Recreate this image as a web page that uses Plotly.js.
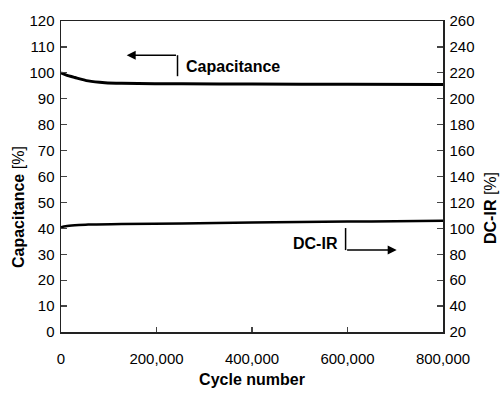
<!DOCTYPE html>
<html>
<head>
<meta charset="utf-8">
<script src="https://cdn.plot.ly/plotly-3.0.1.min.js"></script>
<style>html,body{margin:0;padding:0;background:#fff}#chart{width:501px;height:395px}</style>
</head>
<body>
<div id="chart"></div>
<script>
// Data
const capCycles = [0, 10000, 29000, 57000, 92000, 127000, 253000, 400000, 600000, 800000];
const capValues = [100, 99.2, 98.2, 96.9, 96.2, 95.95, 95.75, 95.65, 95.55, 95.5];
const dcirCycles = [0, 10000, 29000, 57000, 127000, 253000, 400000, 500000, 600000, 700000, 800000];
const dcirValues = [100.8, 101.6, 102.3, 103.0, 103.3, 103.8, 104.5, 104.9, 105.2, 105.5, 105.8];
const xTicks = [0, 200000, 400000, 600000, 800000];
const leftTicks = [0,10,20,30,40,50,60,70,80,90,100,110,120];
const rightTicks = [20,40,60,80,100,120,140,160,180,200,220,240,260];

const FONT = '"Liberation Sans", Arial, Helvetica, sans-serif';

const traces = [
  {x: capCycles, y: capValues, type: 'scatter', mode: 'lines', line: {color: '#000', width: 3, shape: 'spline', smoothing: 0.8}, yaxis: 'y', hoverinfo: 'skip'},
  {x: dcirCycles, y: dcirValues, type: 'scatter', mode: 'lines', line: {color: '#000', width: 2.5, shape: 'spline', smoothing: 0.8}, yaxis: 'y2', hoverinfo: 'skip'}
];

const axCommon = {showgrid: false, zeroline: false, showline: true, linecolor: '#222', linewidth: 1.5,
  ticks: 'inside', tickcolor: '#444', tickwidth: 1.2, tickfont: {family: FONT, size: 15, color: '#000'}};

const layout = {
  width: 501, height: 395,
  margin: {l: 61, r: 58, t: 21, b: 63},
  paper_bgcolor: '#fff', plot_bgcolor: '#fff',
  showlegend: false,
  font: {family: FONT, color: '#000'},
  xaxis: Object.assign({}, axCommon, {range: [0, 800000], tickvals: xTicks, ticktext: xTicks.map(v => v.toLocaleString('en-US')),
    ticklen: 5, ticklabelstandoff: 12, mirror: true,
    title: {text: '<b>Cycle number</b>', font: {family: FONT, size: 16, color: '#000'}, standoff: 8}}),
  yaxis: Object.assign({}, axCommon, {range: [0, 120], tickvals: leftTicks, ticklen: 6, ticklabelstandoff: 2}),
  yaxis2: Object.assign({}, axCommon, {range: [20, 260], tickvals: rightTicks, ticklen: 6, overlaying: 'y', side: 'right', ticklabelstandoff: 2}),
  shapes: [
    {type: 'line', xref: 'x', yref: 'y', x0: 244000, x1: 244000, y0: 98.7, y1: 106.8, line: {color: '#000', width: 1.5}},
    {type: 'line', xref: 'x', yref: 'y', x0: 596000, x1: 596000, y0: 40.1, y1: 31.6, line: {color: '#000', width: 1.5}}
  ],
  annotations: [
    {x: 137600, y: 106.8, ax: 244000, ay: 106.8, axref: 'x', ayref: 'y', xref: 'x', yref: 'y', text: '', showarrow: true,
     arrowhead: 2, arrowsize: 1.2, arrowwidth: 1.5, arrowcolor: '#000', standoff: 0, startstandoff: 0},
    {x: 703000, y: 31.6, ax: 596000, ay: 31.6, axref: 'x', ayref: 'y', xref: 'x', yref: 'y', text: '', showarrow: true,
     arrowhead: 2, arrowsize: 1.2, arrowwidth: 1.5, arrowcolor: '#000', standoff: 0, startstandoff: 0},
    {x: 258000, y: 102.6, xref: 'x', yref: 'y', xanchor: 'left', yanchor: 'middle', showarrow: false,
     text: '<b>Capacitance</b>', font: {family: FONT, size: 16, color: '#000'}},
    {x: 584000, y: 34.3, xref: 'x', yref: 'y', xanchor: 'right', yanchor: 'middle', showarrow: false,
     text: '<b>DC-IR</b>', font: {family: FONT, size: 16, color: '#000'}},
    {x: 18, y: 207, xref: 'paper', yref: 'paper', showarrow: false, textangle: -90, xanchor: 'center', yanchor: 'middle',
     text: '<b>Capacitance</b> [%]', font: {family: FONT, size: 16, color: '#000'}},
    {x: 490, y: 208, xref: 'paper', yref: 'paper', showarrow: false, textangle: -90, xanchor: 'center', yanchor: 'middle',
     text: '<b>DC-IR</b> [%]', font: {family: FONT, size: 16, color: '#000'}}
  ]
};

// convert pixel-positioned axis titles to paper coords
const pw = 501 - 61 - 58, ph = 395 - 21 - 63;
layout.annotations[4].x = (18 - 61) / pw; layout.annotations[4].y = (395 - 63 - 207) / ph;
layout.annotations[5].x = (490 - 61) / pw; layout.annotations[5].y = (395 - 63 - 208) / ph;

Plotly.newPlot('chart', traces, layout, {staticPlot: true, displayModeBar: false});
</script>
</body>
</html>
